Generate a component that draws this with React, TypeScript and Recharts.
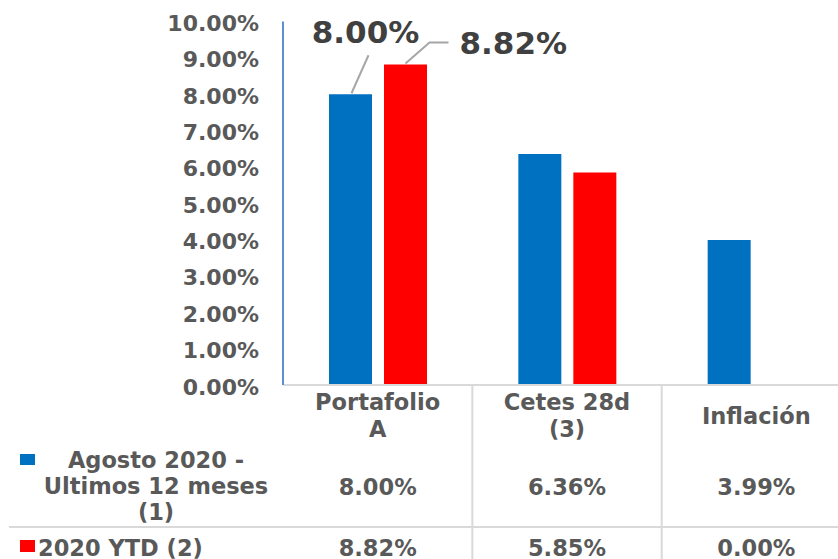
import React from 'react';
import { BarChart, Bar, XAxis, YAxis, LabelList } from 'recharts';

const categories = ['Portafolio A', 'Cetes 28d (3)', 'Inflación'];
const categoryLines = [['Portafolio', 'A'], ['Cetes 28d', '(3)'], ['Inflación']];
const agosto = [8.0, 6.36, 3.99];
const ytd = [8.82, 5.85, 0.0];
const yTicks = [0, 1, 2, 3, 4, 5, 6, 7, 8, 9, 10];
const agostoLabel = ['Agosto 2020 -', 'Ultimos 12 meses', '(1)'];
const ytdLabel = '2020 YTD (2)';

const BLUE = '#0070c0';
const RED = '#ff0000';
const TEXT = '#595959';
const GRID = '#d9d9d9';
const FONT = '"DejaVu Sans", Arial, sans-serif';

const W = 870;
const H = 559;
const LEFT = 283;
const RIGHT_M = 19;
const CAT_W = (W - LEFT - RIGHT_M) / categories.length;

const data = categories.map((name, i) => ({ name, a: agosto[i], b: ytd[i] }));

const fmt = (v: number) => `${v.toFixed(2)}%`;

const YTick = (props: any) => {
  const { y, payload } = props;
  return (
    <text x={259} y={y + 9.5} textAnchor="end" fontSize={22} fontWeight="bold" fill={TEXT} fontFamily={FONT}>
      {fmt(payload.value)}
    </text>
  );
};

const CatTick = (props: any) => {
  const { x, index } = props;
  const lines = categoryLines[index];
  const txt = { textAnchor: 'middle' as const, fontSize: 22.5, fontWeight: 'bold', fill: TEXT, fontFamily: FONT };
  return (
    <g>
      {lines.length === 2 ? (
        <>
          <text x={x} y={410} {...txt}>{lines[0]}</text>
          <text x={x} y={437} {...txt}>{lines[1]}</text>
        </>
      ) : (
        <text x={x} y={424} {...txt}>{lines[0]}</text>
      )}
      <text x={x} y={495} {...txt}>{fmt(agosto[index])}</text>
      <text x={x} y={556} {...txt}>{fmt(ytd[index])}</text>
      <line x1={x + CAT_W / 2} x2={x + CAT_W / 2} y1={386} y2={H} stroke={GRID} strokeWidth={2} />
      {index === 0 && (
        <g>
          <line x1={9} x2={W} y1={527} y2={527} stroke={GRID} strokeWidth={2} />
          <rect x={20} y={454} width={15} height={11} fill={BLUE} />
          {agostoLabel.map((l, i) => (
            <text key={i} x={156} y={468 + i * 26} textAnchor="middle" fontSize={22.5} fontWeight="bold" fill={TEXT} fontFamily={FONT}>
              {l}
            </text>
          ))}
          <rect x={20} y={540} width={15} height={12} fill={RED} />
          <text x={38} y={556} fontSize={22.5} fontWeight="bold" fill={TEXT} fontFamily={FONT}>
            {ytdLabel}
          </text>
        </g>
      )}
    </g>
  );
};

const BlueLabel = (props: any) => {
  const { x, y, width, value, index } = props;
  if (index !== 0) return null;
  const cx = x + width / 2;
  return (
    <g>
      <line x1={cx + 1} y1={y - 1} x2={cx + 18} y2={y - 39} stroke="#a6a6a6" strokeWidth={2} />
      <text x={cx + 15} y={y - 51} textAnchor="middle" fontSize={31} fontWeight="bold" fill="#404040" fontFamily={FONT}>
        {fmt(value)}
      </text>
    </g>
  );
};

const RedLabel = (props: any) => {
  const { x, y, width, value, index } = props;
  if (index !== 0) return null;
  const cx = x + width / 2;
  return (
    <g>
      <polyline
        points={`${cx},${y - 1} ${cx + 24},${y - 22} ${cx + 43},${y - 22}`}
        fill="none"
        stroke="#a6a6a6"
        strokeWidth={2}
      />
      <text x={cx + 54} y={y - 10} fontSize={31} fontWeight="bold" fill="#404040" fontFamily={FONT}>
        {fmt(value)}
      </text>
    </g>
  );
};

export default function App() {
  return (
    <div style={{ position: 'absolute', left: 0, top: 0, width: 838, height: 559, overflow: 'hidden', background: '#fff' }}>
      <BarChart width={W} height={H} data={data} margin={{ top: 21.6, right: RIGHT_M, bottom: 0, left: 0 }} barSize={43} barGap={12}>
        <XAxis
          dataKey="name"
          height={174}
          interval={0}
          tickLine={false}
          axisLine={{ stroke: GRID, strokeWidth: 2 }}
          tick={<CatTick />}
        />
        <YAxis
          width={LEFT}
          domain={[0, 10]}
          ticks={yTicks}
          interval={0}
          tickLine={false}
          axisLine={{ stroke: '#5b8fd0', strokeWidth: 2 }}
          tick={<YTick />}
        />
        <Bar dataKey="a" fill={BLUE} isAnimationActive={false}>
          <LabelList dataKey="a" content={<BlueLabel />} />
        </Bar>
        <Bar dataKey="b" fill={RED} isAnimationActive={false}>
          <LabelList dataKey="b" content={<RedLabel />} />
        </Bar>
      </BarChart>
    </div>
  );
}
